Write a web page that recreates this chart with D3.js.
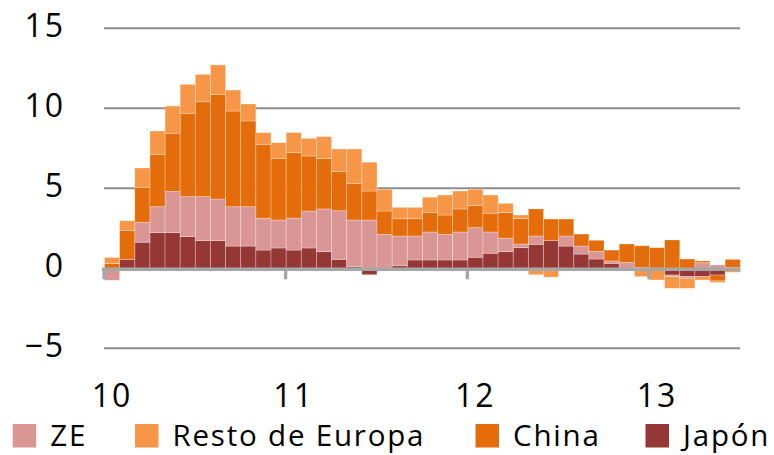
<!DOCTYPE html>
<html>
<head>
<meta charset="utf-8">
<script src="https://cdn.jsdelivr.net/npm/d3@7"></script>
<style>
  html, body { margin: 0; padding: 0; background: #fff; }
  svg { display: block; }
  text { font-family: "Open Sans", "DejaVu Sans", sans-serif; fill: #000; }
</style>
</head>
<body>
<svg id="chart" width="774" height="455"></svg>
<script>
// Months Jan 2010 .. Jun 2013 (index 0..41)
const months = d3.range(42);
const seriesKeys = ["Japón", "ZE", "China", "Resto de Europa"];
const japon = [0, 0.56, 1.63, 2.23, 2.23, 1.98, 1.73, 1.73, 1.39, 1.39, 1.14, 1.27,
  1.14, 1.27, 1.04, 0.56, 0.1, -0.4, 0, 0.16, 0.52, 0.52, 0.52, 0.52,
  0.69, 0.94, 1.04, 1.29, 1.5, 1.73, 1.39, 0.89, 0.58, 0.31, 0, 0,
  0, -0.42, -0.52, -0.52, -0.42, -0.15];
const ze = [-0.75, 0, 1.25, 1.62, 2.58, 2.5, 2.75, 2.6, 2.46, 2.46, 1.99, 1.75,
  1.99, 2.31, 2.67, 3.04, 2.92, 3.02, 2.12, 1.86, 1.5, 1.75, 1.6, 1.75,
  1.85, 1.33, 0.84, 0.23, 0.52, 0, 0.63, 0.5, 0.48, 0.15, 0.37, 0.05,
  0, -0.1, -0.1, 0.35, 0.21, 0.05];
const china = [0.3, 1.81, 2.18, 3.27, 3.63, 5.21, 5.93, 6.54, 5.98, 5.36, 4.62, 3.85,
  4.1, 3.44, 3.16, 2.44, 2.29, 1.81, 1.46, 1.08, 1.08, 1.21, 1.21, 1.44,
  1.38, 1.17, 1.6, 1.6, 1.69, 1.35, 1.06, 0.75, 0.69, 0.68, 1.15, 1.36,
  1.29, 1.77, 0.58, 0.11, -0.37, 0.51];
const resto = [0.38, 0.6, 1.21, 1.46, 1.7, 1.81, 1.71, 1.84, 1.31, 1.06, 0.73, 0.98,
  1.25, 1.1, 1.36, 1.42, 2.15, 1.8, 1.36, 0.71, 0.71, 0.96, 1.25, 1.12,
  1.02, 1.14, 0.58, 0.21, -0.4, -0.55, 0, 0, 0, 0, 0, -0.52,
  -0.73, -0.73, -0.63, -0.21, -0.1, -0.1];
const yTicks = [-5, 0, 5, 10, 15];
const xTickMonths = [0, 12, 24, 36];
const xTickLabels = ["10", "11", "12", "13"];
const legendKeys = ["ZE", "Resto de Europa", "China", "Japón"];
const colors = {"ZE": "#da9694", "Resto de Europa": "#f79646", "China": "#e46c0a", "Japón": "#953735"};

const table = months.map((m, i) => ({
  m: m, "Japón": japon[i], "ZE": ze[i], "China": china[i], "Resto de Europa": resto[i]
}));

const svg = d3.select("#chart");
const x = d3.scaleLinear().domain([0, 42]).range([104.5, 740.3]);
const y = d3.scaleLinear().domain([-5, 15]).range([348.3, 28.3]);

// gridlines
svg.append("g").selectAll("line").data(yTicks.filter(t => t !== 0)).join("line")
  .attr("x1", 104).attr("x2", 740)
  .attr("y1", d => y(d)).attr("y2", d => y(d))
  .attr("stroke", "#8c8c8c").attr("stroke-width", 2);

// y labels
svg.append("g").selectAll("text").data(yTicks).join("text")
  .attr("x", 65).attr("y", d => y(d) + 8.5)
  .attr("text-anchor", "end")
  .attr("font-size", 32).attr("letter-spacing", 2)
  .text(d => d < 0 ? "\u2212" + Math.abs(d) : d);

// stacked bars
const stack = d3.stack().keys(seriesKeys).offset(d3.stackOffsetDiverging);
const stacked = stack(table);
svg.append("g").selectAll("g").data(stacked).join("g")
  .attr("fill", d => colors[d.key])
  .selectAll("rect").data(d => d).join("rect")
  .attr("x", d => x(d.data.m))
  .attr("width", d => x(d.data.m + 1) - x(d.data.m))
  .attr("y", d => y(Math.max(d[0], d[1])))
  .attr("height", d => Math.abs(y(d[0]) - y(d[1])))
  .attr("stroke", "rgba(255,255,255,0.35)")
  .attr("stroke-width", 0.8);

// x axis line and ticks
svg.append("line")
  .attr("x1", 102).attr("x2", 740.3)
  .attr("y1", y(0) + 1).attr("y2", y(0) + 1)
  .attr("stroke", "#a6a6a6").attr("stroke-width", 3.5);
svg.append("g").selectAll("line").data(xTickMonths).join("line")
  .attr("x1", d => x(d) - 0.5).attr("x2", d => x(d) - 0.5)
  .attr("y1", y(0) + 1).attr("y2", y(0) + 11)
  .attr("stroke", "#a6a6a6").attr("stroke-width", 3.3);

// x labels
svg.append("g").selectAll("text").data(xTickMonths).join("text")
  .attr("x", d => x(d) + 7.5).attr("y", 406.5)
  .attr("text-anchor", "middle")
  .attr("font-size", 32).attr("letter-spacing", 2)
  .text((d, i) => xTickLabels[i]);

// legend
const legendX = [12.7, 135, 475.5, 645.5];
const lg = svg.append("g").selectAll("g").data(legendKeys).join("g")
  .attr("transform", (d, i) => `translate(${legendX[i]},424)`);
lg.append("rect").attr("width", 23.5).attr("height", 23.5).attr("fill", d => colors[d]);
lg.append("text").attr("x", 37.5).attr("y", 22)
  .attr("font-size", 29.5).attr("letter-spacing", 1.8)
  .text(d => d);
</script>
</body>
</html>
